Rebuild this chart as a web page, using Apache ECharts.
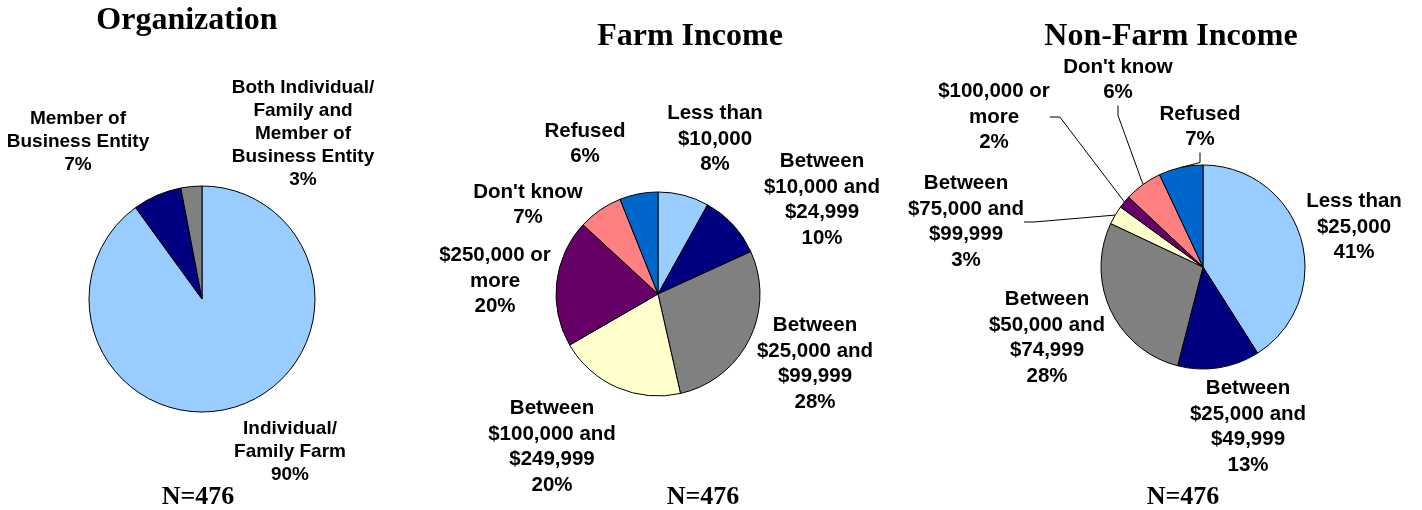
<!DOCTYPE html>
<html>
<head>
<meta charset="utf-8">
<script src="https://cdn.jsdelivr.net/npm/echarts@6/dist/echarts.min.js"></script>
<style>
  html, body { margin: 0; padding: 0; background: #fff; }
  #chart { width: 1422px; height: 510px; }
</style>
</head>
<body>
<div id="chart"></div>
<script>
// data
const orgNames = ['Individual/\nFamily Farm', 'Member of\nBusiness Entity', 'Both Individual/\nFamily and\nMember of\nBusiness Entity']
const orgValues = [90, 7, 3]

const farmNames = ['Less than\n$10,000', 'Between\n$10,000 and\n$24,999', 'Between\n$25,000 and\n$99,999', 'Between\n$100,000 and\n$249,999', '$250,000 or\nmore', "Don't know", 'Refused']
const farmValues = [8, 10, 28, 20, 20, 7, 6]

const nonFarmNames = ['Less than\n$25,000', 'Between\n$25,000 and\n$49,999', 'Between\n$50,000 and\n$74,999', 'Between\n$75,000 and\n$99,999', '$100,000 or\nmore', "Don't know", 'Refused']
const nonFarmValues = [41, 13, 28, 3, 2, 6, 7]

const titles = ['Organization', 'Farm Income', 'Non-Farm Income']
const sampleText = 'N=476'

// styles / layout
const orgColors = ['#99CCFF', '#000080', '#808080']
const incomeColors = ['#99CCFF', '#000080', '#808080', '#FFFFCC', '#660066', '#FF8080', '#0066CC']
const orgLabelPos = [[290, 452], [78, 142], [303, 134]]
const farmLabelPos = [[715, 139], [822, 200], [815, 364], [552, 447], [495, 281], [528, 205], [585, 144]]
const nonFarmLabelPos = [[1354, 227], [1248, 427], [1047, 338], [966, 222], [994, 117], [1118, 80], [1200, 127]]
const nonFarmLines = [false, false, false, true, true, true, true]

const chartInstance = echarts.init(document.getElementById('chart'))

function buildPie (names, values, colors, labelPos, center, radius, fontSize, lineHeight, lines) {
  return {
    type: 'pie',
    center: center,
    radius: radius,
    startAngle: 90,
    clockwise: true,
    avoidLabelOverlap: false,
    emphasis: { disabled: true },
    itemStyle: { borderColor: '#000', borderWidth: 1 },
    label: {
      show: true,
      position: 'outside',
      color: '#000',
      fontFamily: 'Arial, "Liberation Sans", sans-serif',
      fontWeight: 'bold',
      fontSize: fontSize,
      lineHeight: lineHeight,
      align: 'center',
      formatter: p => p.name + '\n' + p.value + '%'
    },
    labelLine: { show: false, lineStyle: { color: '#000', width: 1 }, length: 10, length2: 10 },
    labelLayout: params => {
      const p = labelPos[params.dataIndex]
      return { x: p[0], y: p[1], align: 'center', verticalAlign: 'middle' }
    },
    data: names.map((name, i) => ({
      name: name,
      value: values[i],
      itemStyle: { color: colors[i] },
      labelLine: { show: lines ? lines[i] : false }
    }))
  }
}

const titleStyle = { fontFamily: '"Times New Roman", "Liberation Serif", serif', fontWeight: 'bold', fontSize: 32, color: '#000' }
const nStyle = { fontFamily: '"Times New Roman", "Liberation Serif", serif', fontWeight: 'bold', fontSize: 26, color: '#000' }

const option = {
  animation: false,
  backgroundColor: '#fff',
  title: [
    { text: titles[0], left: 187, top: 5, textAlign: 'center', padding: 0, textStyle: titleStyle },
    { text: titles[1], left: 690, top: 21, textAlign: 'center', padding: 0, textStyle: titleStyle },
    { text: titles[2], left: 1171, top: 21, textAlign: 'center', padding: 0, textStyle: titleStyle },
    { text: sampleText, left: 198, top: 484, textAlign: 'center', padding: 0, textStyle: nStyle },
    { text: sampleText, left: 703, top: 484, textAlign: 'center', padding: 0, textStyle: nStyle },
    { text: sampleText, left: 1183, top: 484, textAlign: 'center', padding: 0, textStyle: nStyle }
  ],
  series: [
    buildPie(orgNames, orgValues, orgColors, orgLabelPos, [202, 299], 113, 19, 23),
    buildPie(farmNames, farmValues, incomeColors, farmLabelPos, [658, 294], 102, 20.5, 25.5),
    buildPie(nonFarmNames, nonFarmValues, incomeColors, nonFarmLabelPos, [1203, 267], 102, 20.5, 25.5, nonFarmLines)
  ]
}
chartInstance.setOption(option)
</script>
</body>
</html>
